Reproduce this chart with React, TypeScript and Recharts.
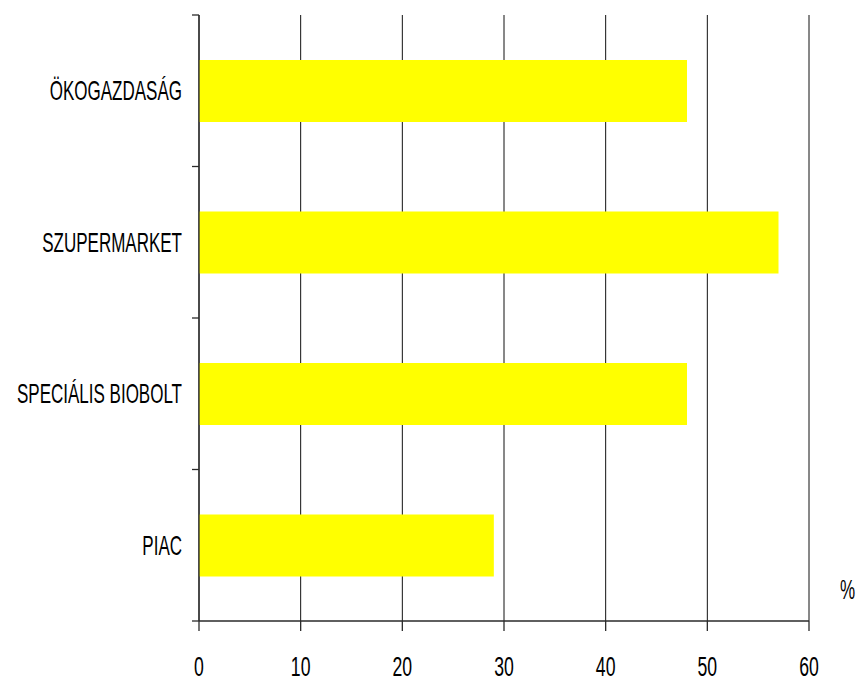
import React from 'react';
import { BarChart, Bar, XAxis, YAxis, CartesianGrid, Label } from 'recharts';

// Purchase locations and their share (%)
const categories = ['ÖKOGAZDASÁG', 'SZUPERMARKET', 'SPECIÁLIS BIOBOLT', 'PIAC'];
const shares = [48, 57, 48, 29];
const percentTicks = [0, 10, 20, 30, 40, 50, 60];
const unitLabel = '%';

const data = categories.map((name, i) => ({ name, value: shares[i] }));

const FONT = '"Liberation Sans", Arial, Helvetica, sans-serif';
const SQUEEZE = 0.63; // condensed lettering
const AXIS = '#2a2a2a';
const LABEL_GAP = 17;
const EDGE_TICK = 7;

// Category label plus the short tick marks on the band boundaries
const CategoryTick = (props: any) => {
  const { x, y, payload, index } = props;
  const axisX = x + LABEL_GAP;
  const half = payload.offset || 0;
  const last = index === categories.length - 1;
  return (
    <g>
      <line x1={axisX - EDGE_TICK} x2={axisX} y1={y - half} y2={y - half} stroke={AXIS} strokeWidth={1.3} />
      {last && (
        <line x1={axisX - EDGE_TICK} x2={axisX} y1={y + half} y2={y + half} stroke={AXIS} strokeWidth={1.3} />
      )}
      <g transform={`translate(${x},${y}) scale(${SQUEEZE},1)`}>
        <text x={0} y={0} dy={9.6} textAnchor="end" fontFamily={FONT} fontSize={27} fill="#000">
          {payload.value}
        </text>
      </g>
    </g>
  );
};

const ValueTick = (props: any) => {
  const { x, y, payload } = props;
  return (
    <g transform={`translate(${x},${y}) scale(${SQUEEZE},1)`}>
      <text x={0} y={0} dy={45} textAnchor="middle" fontFamily={FONT} fontSize={28} fill="#000">
        {payload.value}
      </text>
    </g>
  );
};

const UnitLabel = (props: any) => {
  const vb = props.viewBox || {};
  const cx = vb.x + vb.width + 38.5;
  const cy = vb.y - 22;
  return (
    <g transform={`translate(${cx},${cy}) scale(${SQUEEZE},1)`}>
      <text x={0} y={0} textAnchor="middle" fontFamily={FONT} fontSize={27} fill="#000">
        {unitLabel}
      </text>
    </g>
  );
};

export default function App() {
  return (
    <div style={{ position: 'absolute', left: 0, top: 0, width: 858, height: 680, background: '#fff' }}>
      <BarChart
        width={858}
        height={680}
        data={data}
        layout="vertical"
        margin={{ top: 15, right: 49, bottom: 0, left: 0 }}
      >
        <CartesianGrid horizontal={false} vertical stroke="#111" strokeWidth={1} />
        <XAxis
          type="number"
          domain={[0, 60]}
          ticks={percentTicks}
          interval={0}
          height={59}
          tickSize={10}
          tickMargin={0}
          stroke={AXIS}
          axisLine={{ stroke: AXIS, strokeWidth: 1.3 }}
          tickLine={{ stroke: AXIS, strokeWidth: 1.3 }}
          tick={<ValueTick />}
        >
          <Label content={<UnitLabel />} />
        </XAxis>
        <YAxis
          type="category"
          dataKey="name"
          width={199}
          tickSize={0}
          tickMargin={LABEL_GAP}
          tickLine={false}
          axisLine={{ stroke: AXIS, strokeWidth: 1.3 }}
          tick={<CategoryTick />}
          interval={0}
        />
        <Bar dataKey="value" fill="#FFFF00" barSize={62} isAnimationActive={false} />
      </BarChart>
    </div>
  );
}
